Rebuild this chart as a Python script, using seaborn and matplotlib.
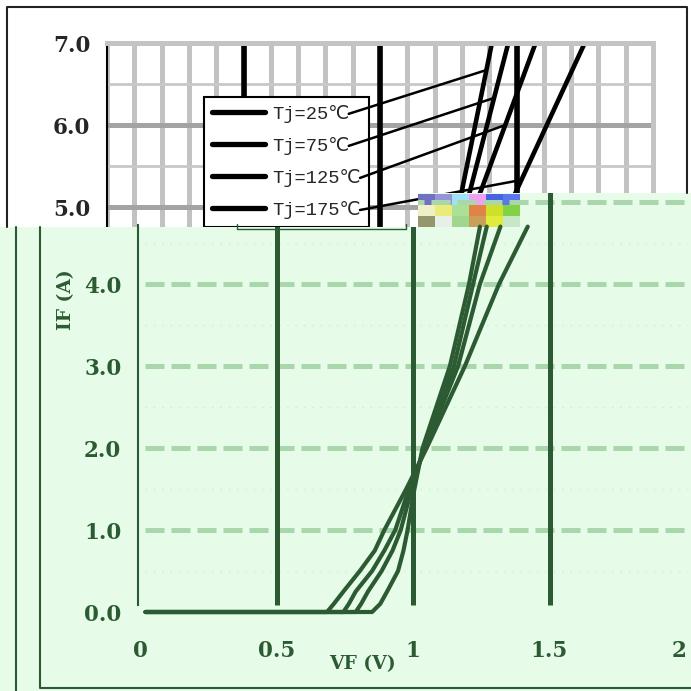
import numpy as np
import pandas as pd
import matplotlib
matplotlib.use("Agg")
import matplotlib.pyplot as plt
from matplotlib.lines import Line2D
from matplotlib.patches import Polygon
from matplotlib.ticker import MultipleLocator
from matplotlib.font_manager import FontProperties
import seaborn as sns

# Data
temps = ["Tj=25℃", "Tj=75℃", "Tj=125℃", "Tj=175℃"]

# upper (white) chart: steep high-current part of the curves
if_top = [4.7, 5.2, 7.0]
vf_top = {
    "Tj=25℃": [1.27, 1.30, 1.41],
    "Tj=75℃": [1.29, 1.33, 1.47],
    "Tj=125℃": [1.31, 1.37, 1.57],
    "Tj=175℃": [1.43, 1.50, 1.75],
}
# current where each legend leader line meets its curve
leader_if = [6.67, 6.33, 6.0, 5.33]

# lower (green) chart
if_bot = [0.0, 0.0, 0.1, 0.25, 0.5, 0.75, 1.0, 1.5, 2.0, 3.0, 4.0, 4.7]
vf_bot = {
    "Tj=25℃": [0.02, 0.85, 0.88, 0.905, 0.945, 0.965, 0.98, 1.005, 1.035, 1.135, 1.205, 1.245],
    "Tj=75℃": [0.02, 0.79, 0.81, 0.835, 0.885, 0.925, 0.955, 0.995, 1.04, 1.15, 1.22, 1.27],
    "Tj=125℃": [0.02, 0.745, 0.765, 0.79, 0.85, 0.895, 0.935, 0.985, 1.045, 1.165, 1.245, 1.32],
    "Tj=175℃": [0.02, 0.685, 0.71, 0.745, 0.805, 0.86, 0.895, 0.975, 1.05, 1.19, 1.315, 1.42],
}

x_ticks = [0, 0.5, 1, 1.5, 2]
x_ticklabels = ["0", "0.5", "1", "1.5", "2"]
y_ticks_top = [5, 6, 7]
y_ticks_bot = [0, 1, 2, 3, 4]
dash_levels = [1, 2, 3, 4, 5]
faint_levels = [0.5, 1.5, 2.5, 3.5, 4.5]
major_v = [0.5, 1.0, 1.5]

# Colours
GREEN_BG = "#e6fce8"
DKGREEN = "#2c5b33"
DASH = "#a9d6ab"

df_top = pd.DataFrame([(t, v, i) for t in temps for v, i in zip(vf_top[t], if_top)],
                      columns=["Tj", "Vf", "If"])
df_bot = pd.DataFrame([(t, v, i) for t in temps for v, i in zip(vf_bot[t], if_bot)],
                      columns=["Tj", "Vf", "If"])

sns.set_style("white")
plt.rcParams["font.family"] = ["DejaVu Serif"]

W = H = 691
fig = plt.figure(figsize=(6.91, 6.91), dpi=100)
fig.patch.set_facecolor("white")


def frac(l, t, r, b):
    # pixel box (y down) -> figure fraction rect
    return [l / W, 1 - b / H, (r - l) / W, (b - t) / H]


def fpts(pts):
    return [(x / W, 1 - y / H) for x, y in pts]


# ---------- upper white chart ----------
ax_top = fig.add_axes(frac(107, 43, 653, 617), zorder=0)
sns.lineplot(data=df_top, x="Vf", y="If", hue="Tj", palette=["black"] * 4,
             sort=False, estimator=None, legend=False, lw=3.3, ax=ax_top)
ax_top.vlines(major_v, 0, 7, colors="black", lw=4)
ax_top.set_xlim(0, 2)
ax_top.set_ylim(0, 7)
ax_top.set_xticks([])
ax_top.xaxis.set_minor_locator(MultipleLocator(0.1))
ax_top.set_yticks(y_ticks_top, labels=[f"{v:.1f}" for v in y_ticks_top])
ax_top.yaxis.set_minor_locator(MultipleLocator(0.5))
ax_top.set_axisbelow(True)
ax_top.xaxis.grid(True, which="minor", color="#c2c2c2", lw=3.6)
ax_top.yaxis.grid(True, which="major", color="#a3a3a3", lw=3.6)
ax_top.yaxis.grid(True, which="minor", color="#c8c8c8", lw=2)
ax_top.tick_params(axis="y", which="major", direction="in", length=7, width=1.5,
                   color="black", labelsize=15.5, pad=12)
ax_top.tick_params(axis="both", which="minor", length=0)
for lab in ax_top.get_yticklabels():
    lab.set_fontweight("bold")
ax_top.set_xlabel("")
ax_top.set_ylabel("")
ax_top.spines["left"].set_color("black")
ax_top.spines["left"].set_linewidth(1.5)
ax_top.spines["top"].set_color("#c4c4c4")
ax_top.spines["top"].set_linewidth(3.6)
ax_top.spines["right"].set_color("#c4c4c4")
ax_top.spines["right"].set_linewidth(3.6)
ax_top.spines["bottom"].set_visible(False)

handles = [Line2D([], [], color="black", lw=3.8) for _ in temps]
leg = ax_top.legend(handles, temps, loc="upper left", bbox_to_anchor=(0.1777, 0.906),
                    borderaxespad=0, frameon=True, fancybox=False, framealpha=1,
                    edgecolor="black", handlelength=2.85, handletextpad=0.38,
                    borderpad=0.42, labelspacing=0.75,
                    prop=FontProperties(family=["Liberation Mono", "DejaVu Sans", "Noto Sans CJK JP"],
                                        size=13.5))
leg.get_frame().set_linewidth(1.5)

# ---------- green overlay ----------
green_px = [(0, 227), (418, 227), (418, 193), (691, 193), (691, 691), (0, 691)]
fig.add_artist(Polygon(fpts(green_px), closed=True, transform=fig.transFigure,
                       facecolor=GREEN_BG, edgecolor="none", zorder=1))
clip_poly = Polygon(fpts(green_px), closed=True, transform=fig.transFigure)

# small glitch block at the seam
glitch = np.array([
    [[112, 112, 196], [150, 150, 215], [160, 225, 245], [240, 160, 240], [70, 100, 225], [90, 120, 235]],
    [[240, 240, 200], [235, 235, 120], [170, 225, 150], [225, 130, 70], [205, 225, 40], [130, 210, 70]],
    [[150, 150, 110], [230, 240, 230], [160, 215, 140], [200, 160, 90], [225, 235, 60], [200, 230, 200]],
], dtype=float) / 255
glitch = np.repeat(np.repeat(glitch, 11, axis=0), 17, axis=1)
fig.figimage(glitch, xo=418, yo=691 - 227, zorder=1.5)

# ---------- lower green chart ----------
ax_bot = fig.add_axes(frac(138, 193, 691, 625), zorder=2)
ax_bot.set_facecolor("none")
ax_bot.hlines(faint_levels, 0.02, 2.02, colors="#cfeccf", lw=1, linestyles=(0, (1, 5)))
ax_bot.hlines(dash_levels, 0.02, 2.02, colors=DASH, lw=3.6, linestyles=(0, (3.8, 1.4)))
ax_bot.vlines(major_v, 0.09, 5.2, colors=DKGREEN, lw=3.6)
sns.lineplot(data=df_bot, x="Vf", y="If", hue="Tj", palette=[DKGREEN] * 4,
             sort=False, estimator=None, legend=False, lw=3, ax=ax_bot)
ax_bot.set_xlim(-0.0073, 2.018)
ax_bot.set_ylim(-0.1585, 5.11)
ax_bot.set_xticks(x_ticks, labels=x_ticklabels)
ax_bot.set_yticks(y_ticks_bot, labels=[f"{v:.1f}" for v in y_ticks_bot])
ax_bot.tick_params(axis="x", length=0, pad=11, labelsize=15.5, labelcolor=DKGREEN)
ax_bot.tick_params(axis="y", direction="in", length=7, width=1.5, color=DKGREEN,
                   labelsize=15.5, labelcolor=DKGREEN, pad=12)
ax_bot.yaxis.get_major_ticks()[0].tick1line.set_visible(False)
for lab in ax_bot.get_xticklabels() + ax_bot.get_yticklabels():
    lab.set_fontweight("bold")
# last x label sits against the right edge
ax_bot.get_xticklabels()[-1].set_horizontalalignment("right")
ax_bot.grid(False)
for s in ["top", "right", "bottom"]:
    ax_bot.spines[s].set_visible(False)
ax_bot.spines["left"].set_color(DKGREEN)
ax_bot.spines["left"].set_linewidth(1.5)
ax_bot.spines["left"].set_bounds(0.09, 4.72)
ax_bot.set_xlabel("VF (V)", fontsize=13.5, fontweight="bold", color=DKGREEN)
ax_bot.xaxis.set_label_coords(0.405, -0.069)
ax_bot.set_ylabel("IF (A)", fontsize=13.5, fontweight="bold", color=DKGREEN)
ax_bot.yaxis.set_label_coords(-0.114, 0.752)
for art in ax_bot.lines + ax_bot.collections:
    art.set_clip_path(clip_poly)

# frames around the two pieces
fig.add_artist(Line2D(*zip(*fpts([(7, 227), (7, 7), (687, 7), (687, 193)])),
                      transform=fig.transFigure, color="#222222", lw=1.5, zorder=3))
fig.add_artist(Line2D(*zip(*fpts([(16, 227), (16, 691)])),
                      transform=fig.transFigure, color=DKGREEN, lw=1.5, zorder=3))
fig.add_artist(Line2D(*zip(*fpts([(40, 227), (40, 688), (691, 688)])),
                      transform=fig.transFigure, color=DKGREEN, lw=1.5, zorder=3))
fig.add_artist(Line2D(*zip(*fpts([(237, 224), (237, 229), (406, 229), (406, 224)])),
                      transform=fig.transFigure, color=DKGREEN, lw=1, zorder=3))

# leader lines from legend texts to the curves
fig.canvas.draw()
for t, txt, lif in zip(temps, leg.get_texts(), leader_if):
    bb = txt.get_window_extent()
    lvf = np.interp(lif, if_top, vf_top[t])
    ax_top.annotate("", xy=(lvf, lif), xycoords="data",
                    xytext=(bb.x1 - 1, (bb.y0 + bb.y1) / 2), textcoords="figure pixels",
                    arrowprops=dict(arrowstyle="-", color="black", lw=1.8,
                                    shrinkA=0, shrinkB=0),
                    zorder=6)

fig.savefig("out.png", dpi=100)
